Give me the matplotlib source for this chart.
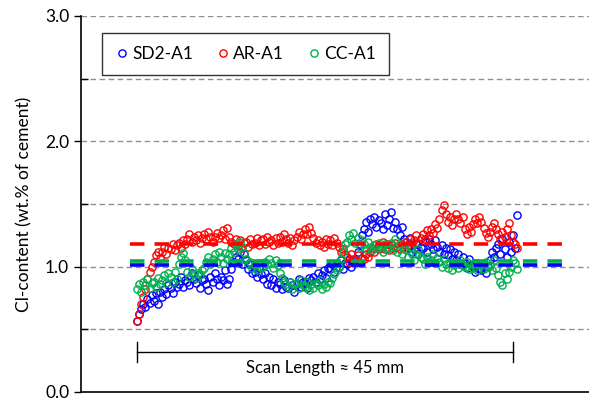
import numpy as np
import matplotlib
matplotlib.use("Agg")
import matplotlib.pyplot as plt

plt.rcParams['font.family'] = ['Lato', 'DejaVu Sans']

# Cl-content profiles along the scan (wt.% of cement), 4 readings per mm
sd2_a1 = [
    0.57, 0.62, 0.66, 0.70, 0.68, 0.74, 0.71, 0.77, 0.73, 0.79, 0.70, 0.80,
    0.76, 0.82, 0.78, 0.85, 0.83, 0.79, 0.88, 0.84, 0.86, 0.92, 0.84, 0.89,
    0.88, 0.85, 0.95, 0.90, 0.87, 0.93, 0.83, 0.89, 0.90, 0.86, 0.81, 0.92,
    0.88, 0.95, 0.90, 0.85, 0.92, 0.89, 0.97, 0.86, 0.90, 0.98, 1.04, 1.08,
    1.06, 1.12, 1.02, 1.10, 1.05, 0.98, 1.02, 0.95, 0.96, 0.92, 0.99, 0.94,
    0.90, 0.95, 0.86, 0.92, 0.85, 0.90, 0.83, 0.88, 0.86, 0.82, 0.89, 0.84,
    0.83, 0.88, 0.85, 0.80, 0.86, 0.90, 0.84, 0.88, 0.87, 0.83, 0.91, 0.89,
    0.92, 0.88, 0.95, 0.90, 0.93, 0.97, 0.91, 0.99, 0.98, 1.02, 0.96, 1.03,
    1.00, 1.05, 0.98, 1.03, 1.02, 1.06, 1.00, 1.04, 1.05, 1.12, 1.18, 1.25,
    1.30, 1.36, 1.28, 1.38, 1.34, 1.40, 1.32, 1.37, 1.35, 1.30, 1.42, 1.33,
    1.38, 1.44, 1.31, 1.36, 1.30, 1.25, 1.32, 1.22, 1.20, 1.15, 1.23, 1.12,
    1.14, 1.18, 1.10, 1.16, 1.15, 1.20, 1.12, 1.22, 1.18, 1.14, 1.21, 1.16,
    1.12, 1.17, 1.10, 1.15, 1.09, 1.14, 1.06, 1.12, 1.05, 1.10, 1.02, 1.08,
    1.03, 0.99, 1.06, 1.01, 1.00, 0.96, 1.03, 0.98, 0.97, 1.02, 0.95, 1.00,
    1.05, 1.12, 1.08, 1.15, 1.18, 1.10, 1.22, 1.14, 1.08, 1.20, 1.12, 1.25,
    1.15, 1.41,
]
ar_a1 = [
    0.57, 0.62, 0.70, 0.76, 0.82, 0.90, 0.96, 1.00, 1.04, 1.09, 1.12, 1.07,
    1.12, 1.16, 1.10, 1.15, 1.14, 1.18, 1.13, 1.17, 1.19, 1.15, 1.21, 1.18,
    1.22, 1.26, 1.20, 1.24, 1.21, 1.25, 1.19, 1.23, 1.26, 1.22, 1.28, 1.24,
    1.20, 1.24, 1.27, 1.23, 1.25, 1.29, 1.22, 1.31, 1.24, 1.20, 1.18, 1.22,
    1.17, 1.21, 1.15, 1.19, 1.20, 1.16, 1.22, 1.18, 1.19, 1.23, 1.17, 1.21,
    1.22, 1.18, 1.24, 1.20, 1.21, 1.17, 1.23, 1.19, 1.24, 1.20, 1.26, 1.22,
    1.19, 1.23, 1.17, 1.21, 1.24, 1.28, 1.22, 1.26, 1.30, 1.26, 1.32, 1.27,
    1.23, 1.19, 1.21, 1.17, 1.20, 1.16, 1.22, 1.18, 1.21, 1.17, 1.23, 1.19,
    1.16, 1.12, 1.14, 1.10, 1.08, 1.04, 1.10, 1.06, 1.05, 1.09, 1.03, 1.07,
    1.06, 1.10, 1.08, 1.12, 1.15, 1.12, 1.18, 1.14, 1.16, 1.20, 1.14, 1.18,
    1.13, 1.17, 1.15, 1.19, 1.16, 1.14, 1.18, 1.15, 1.20, 1.17, 1.22, 1.19,
    1.21, 1.25, 1.19, 1.23, 1.26, 1.22, 1.29, 1.25, 1.30, 1.27, 1.34, 1.31,
    1.38, 1.45, 1.49, 1.42, 1.36, 1.40, 1.33, 1.38, 1.42, 1.38, 1.35, 1.40,
    1.30, 1.26, 1.32, 1.28, 1.34, 1.38, 1.35, 1.40, 1.36, 1.31, 1.27, 1.24,
    1.28, 1.32, 1.35, 1.30, 1.26, 1.22, 1.28, 1.24, 1.30, 1.35, 1.25, 1.20,
    1.18, 1.15,
]
cc_a1 = [
    0.82, 0.86, 0.80, 0.88, 0.85, 0.90, 0.83, 0.87, 0.88, 0.84, 0.91, 0.86,
    0.89, 0.93, 0.87, 0.95, 0.92, 0.88, 0.96, 0.90, 1.02, 1.08, 1.11, 1.05,
    0.96, 0.92, 0.98, 0.94, 0.91, 0.95, 0.93, 0.97, 0.99, 1.04, 1.08, 1.02,
    1.06, 1.10, 1.04, 1.12, 1.08, 1.03, 1.11, 1.06, 1.10, 1.15, 1.12, 1.18,
    1.14, 1.20, 1.16, 1.11, 1.06, 1.02, 1.04, 0.99, 1.01, 0.97, 1.03, 0.99,
    1.00, 1.04, 1.02, 1.06, 1.03, 0.99, 1.05, 1.01, 0.95, 0.91, 0.88, 0.86,
    0.84, 0.88, 0.82, 0.86, 0.87, 0.83, 0.89, 0.85, 0.84, 0.88, 0.81, 0.86,
    0.83, 0.87, 0.85, 0.89, 0.82, 0.86, 0.84, 0.88, 0.87, 0.91, 0.94, 0.97,
    1.00, 1.06, 1.12, 1.18, 1.20, 1.25, 1.22, 1.27, 1.19, 1.23, 1.16, 1.21,
    1.18, 1.14, 1.20, 1.16, 1.13, 1.17, 1.15, 1.19, 1.16, 1.12, 1.18, 1.14,
    1.15, 1.19, 1.13, 1.22, 1.12, 1.18, 1.10, 1.15, 1.13, 1.08, 1.16, 1.10,
    1.05, 1.10, 1.14, 1.08, 1.06, 1.02, 1.08, 1.04, 1.05, 1.10, 1.03, 1.07,
    1.04, 1.00, 1.06, 1.02, 0.99, 1.03, 0.97, 1.01, 1.03, 0.99, 1.05, 1.01,
    1.00, 1.04, 0.98, 1.02, 0.99, 1.03, 0.97, 1.01, 1.02, 0.98, 1.04, 1.00,
    1.01, 0.97, 1.05, 0.99, 0.93, 0.88, 0.85, 0.95, 0.90, 0.96, 1.00, 1.05,
    1.03, 0.98,
]
series_names = ['SD2-A1', 'AR-A1', 'CC-A1']
series_colors = ['#0000ff', '#ff0000', '#00b050']
mean_values = [1.01, 1.18, 1.045]
scan_length = 45

fig = plt.figure(figsize=(5.89, 4.03), dpi=100)
ax = fig.add_axes([0.1375, 0.0273, 0.8625, 0.933])

handles = []
for vals, name, col in zip([sd2_a1, ar_a1, cc_a1], series_names, series_colors):
    x = np.linspace(0, 45.5, len(vals))
    h, = ax.plot(x, vals, linestyle='none', marker='o', ms=5.2, mfc='none',
                 mec=col, mew=1.0, label=name, zorder=3)
    handles.append(h)

# average lines
for m, col in zip(mean_values, series_colors):
    ax.plot([-0.8, 51.2], [m, m], color=col, lw=2.6, dashes=(4, 2.8), zorder=4)

# gridlines
for g in [0.5, 1.0, 1.5, 2.0, 2.5, 3.0]:
    ax.axhline(g, color='#909090', lw=1.0, dashes=(4, 2.5), zorder=1)

# scan length marker
y_bar = 0.32
ax.plot([0, scan_length], [y_bar, y_bar], color='black', lw=1.0)
ax.plot([0, 0], [0.24, 0.40], color='black', lw=1.0)
ax.plot([scan_length, scan_length], [0.24, 0.40], color='black', lw=1.0)
ax.text(scan_length / 2, 0.19, 'Scan Length \u2248 45 mm', ha='center',
        va='center', fontsize=12)

ax.set_xlim(-6.7, 54.1)
ax.set_ylim(0, 3.0)
ax.set_yticks([0, 1, 2, 3])
ax.set_yticklabels(['0.0', '1.0', '2.0', '3.0'], fontsize=12.5)
ax.set_yticks([0.5, 1.5, 2.5], minor=True)
ax.tick_params(axis='y', which='major', direction='out', length=5, width=1)
ax.tick_params(axis='y', which='minor', direction='in', length=5, width=1)
ax.set_xticks([])
ax.set_ylabel('Cl-content (wt.% of cement)', fontsize=12.5, labelpad=9)
for s in ['top', 'right']:
    ax.spines[s].set_visible(False)
ax.spines['left'].set_linewidth(1.2)
ax.spines['bottom'].set_linewidth(1.2)

leg = ax.legend(handles=handles, ncol=3, loc='upper left',
                bbox_to_anchor=(102 / 589, 1 - 33 / 403),
                bbox_transform=fig.transFigure, borderaxespad=0,
                fontsize=12.5, frameon=True,
                fancybox=False, edgecolor='black', handletextpad=0.2,
                columnspacing=1.3, handlelength=0.8, borderpad=0.75)
leg.get_frame().set_linewidth(1.0)

fig.savefig('out.png', dpi=100)
